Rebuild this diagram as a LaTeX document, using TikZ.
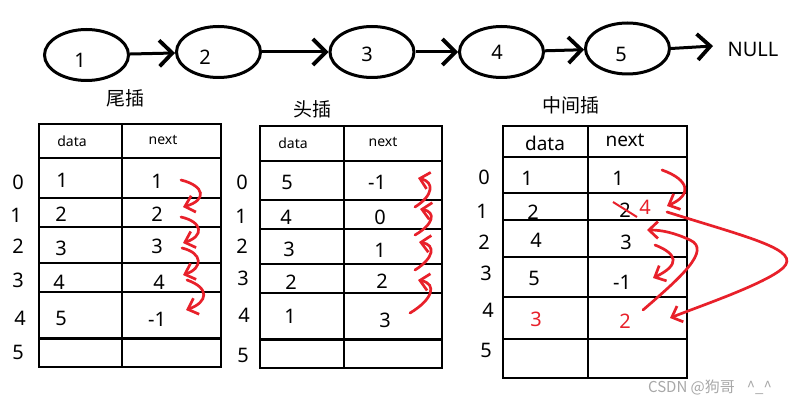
\documentclass[tikz,border=0pt]{standalone}
\usepackage{fontspec}
\setmainfont{Noto Sans}
\newfontfamily\cjk{Noto Sans CJK SC}
\usetikzlibrary{arrows.meta,shapes.geometric}
\definecolor{redpen}{HTML}{E8202A}
\definecolor{wmgray}{HTML}{A8A8A8}
\begin{document}
\begin{tikzpicture}[x=1pt,y=-1pt,
  ell/.style={ellipse,draw,line width=3pt,minimum width=84pt,minimum height=51pt,inner sep=0pt},
  link/.style={line width=3pt,-{Straight Barb[length=13pt,width=26pt,line width=3.8pt]}},
  grid/.style={line width=2.6pt},
  num/.style={font=\fontsize{20}{24}\selectfont,inner sep=0pt},
  hdr/.style={font=\fontsize{14}{16}\selectfont,inner sep=0pt},
  bighdr/.style={font=\fontsize{19}{22}\selectfont,inner sep=0pt},
  cjklab/.style={font=\cjk\fontsize{19}{22}\selectfont,inner sep=0pt},
  rednum/.style={num,text=redpen},
  rarr/.style={draw=redpen,line width=2.7pt,line cap=round,-{Straight Barb[length=9pt,width=17pt]}}]
\useasboundingbox (0,0) rectangle (797,406);
\fill[white] (0,0) rectangle (797,406);

% ---- linked list ----
\node[ell] (n1) at (86.5,55) {};
\node[ell] (n2) at (218.5,52) {};
\node[ell] (n3) at (372,52) {};
\node[ell] (n4) at (501.5,52) {};
\node[ell] (n5) at (627.5,48.5) {};
\node[num] (t1) at (80,60.5) {1};
\node[num] (t2) at (205,57) {2};
\node[num] (t3) at (367,54) {3};
\node[num] (t4) at (497,52) {4};
\node[num] (t5) at (621,54.5) {5};
\coordinate (nullend) at (713,46);
\node[num] (null) at (753,49) {NULL};
\draw[link] (n1) -- (n2);
\draw[link] (n2) -- (n3);
\draw[link] (n3) -- (n4);
\draw[link] (n4) -- (n5);
\draw[link] (n5.east) -- (nullend);

% ---- titles ----
\node[cjklab] (lab1) at (125,98) {尾插};
\node[cjklab] (lab2) at (312,109) {头插};
\node[cjklab] (lab3) at (571,105) {中间插};

% ---- left table ----
\draw[grid] (39,124) rectangle (221,367);
\draw[grid] (122,124) -- (122,367);
\foreach \y in {158,198,227,263,292} \draw[grid] (39,\y) -- (221,\y);
\draw[line width=3pt] (39,338) -- (221,338);
\node[hdr] (Lhd) at (72,141) {data};
\node[hdr] (Lhn) at (163,140) {next};
\foreach \v/\x/\y [count=\i] in {0/18/182,1/16/215,2/18/246,3/18/280,4/20/318,5/18/352}
  \node[num] (Li\i) at (\x,\y) {\v};
\foreach \v/\x/\y [count=\i] in {1/62/180,2/61/214,3/61/248,4/59/282,5/61/318}
  \node[num] (Ld\i) at (\x,\y) {\v};
\foreach \v/\x/\y [count=\i] in {1/157/181,2/157/214,3/157/246,4/159/282,-1/157/319}
  \node[num] (Ln\i) at (\x,\y) {\v};
\draw[rarr] (181,180) .. controls (205,186) and (207,200) .. (183,207);
\draw[rarr] (181,217) .. controls (203,222) and (204,236) .. (183,243);
\draw[rarr] (182,248) .. controls (203,253) and (203,268) .. (183,275);
\draw[rarr] (187,280) .. controls (210,288) and (208,302) .. (186,310);

% ---- middle table ----
\draw[grid] (260,126) rectangle (442,368);
\draw[grid] (344,126) -- (344,368);
\foreach \y in {161,200,229,264,293} \draw[grid] (260,\y) -- (442,\y);
\draw[line width=3pt] (260,339) -- (442,339);
\node[hdr] (Mhd) at (293,143) {data};
\node[hdr] (Mhn) at (383,142) {next};
\foreach \v/\x/\y [count=\i] in {0/242/182,1/241/216,2/242/246,3/243/278,4/244/315,5/243/355}
  \node[num] (Mi\i) at (\x,\y) {\v};
\foreach \v/\x/\y [count=\i] in {5/287/182,4/286/217,3/289/249,2/291/282,1/290/316}
  \node[num] (Md\i) at (\x,\y) {\v};
\foreach \v/\x/\y [count=\i] in {-1/377/182,0/380/217,1/380/250,2/382/281,3/385/320}
  \node[num] (Mn\i) at (\x,\y) {\v};
\draw[rarr] (410,313) .. controls (432,300) and (438,284) .. (418,280);
\draw[rarr] (415,270) .. controls (434,258) and (436,245) .. (419,242);
\draw[rarr] (415,235) .. controls (434,224) and (436,212) .. (420,209);
\draw[rarr] (415,207) .. controls (434,195) and (434,182) .. (418,178);

% ---- right table ----
\draw[grid] (503,126) rectangle (687,378);
\draw[grid] (588,126) -- (588,378);
\foreach \y in {157,193,220,257,297,339} \draw[grid] (503,\y) -- (687,\y);
\node[bighdr] (Rhd) at (545,143) {data};
\node[bighdr] (Rhn) at (625,140) {next};
\foreach \v/\x/\y [count=\i] in {0/484/177,1/482/211,2/484/242,3/486/273,4/488/310,5/486/350}
  \node[num] (Ri\i) at (\x,\y) {\v};
\foreach \v/\x/\y [count=\i] in {1/527/178,2/533/212,4/536/240,5/534/278}
  \node[num] (Rd\i) at (\x,\y) {\v};
\node[rednum] (Rd5) at (536,319) {3};
\foreach \v/\x/\y [count=\i] in {1/618/178,2/625/210,3/626/242,-1/622/282}
  \node[num] (Rn\i) at (\x,\y) {\v};
\node[rednum] (Rn5) at (625,321) {2};
\node[rednum] (Rnew) at (645,207) {4};
\draw[draw=redpen,line width=2pt] (613,202) -- (637,217);
\draw[rarr] (662,170) .. controls (690,180) and (692,195) .. (667,206);
\draw[rarr] (667,212) .. controls (750,238) and (802,250) .. (783,268) .. controls (765,284) and (700,306) .. (670,318);
\draw[rarr] (643,310) .. controls (680,278) and (712,250) .. (690,240) .. controls (675,233) and (662,230) .. (647,230);
\draw[rarr] (655,245) .. controls (678,254) and (680,265) .. (653,278);

% ---- watermark ----
\node[font=\cjk\fontsize{15}{18}\selectfont,text=wmgray,inner sep=0pt] (wm) at (710,388) {CSDN @狗哥\hspace{12pt}\^{}\_\^{}};
\end{tikzpicture}
\end{document}
